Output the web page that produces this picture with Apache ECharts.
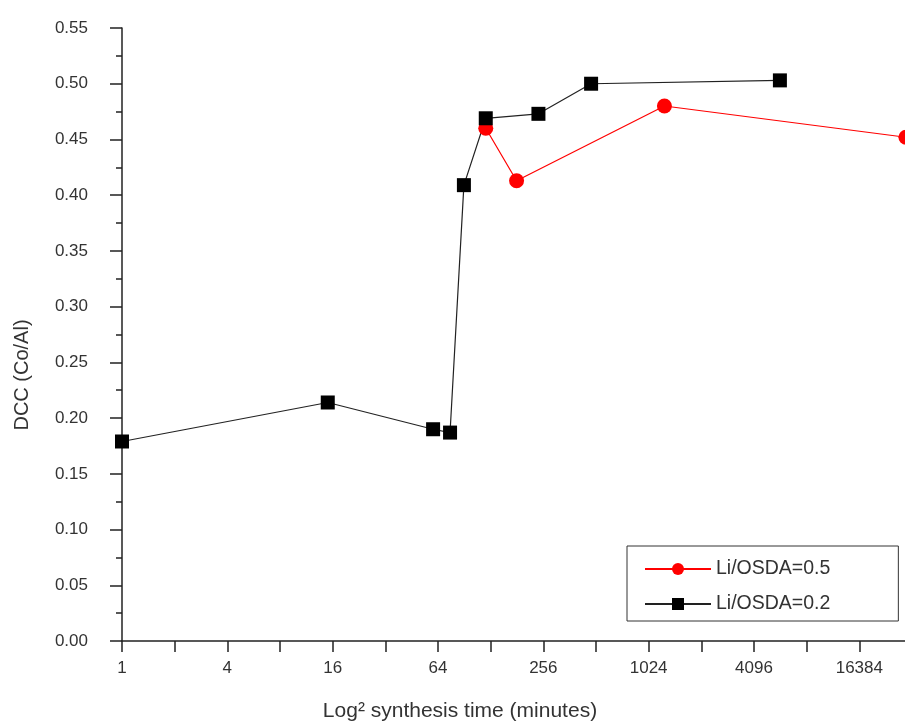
<!DOCTYPE html>
<html>
<head>
<meta charset="utf-8">
<script src="https://cdn.jsdelivr.net/npm/echarts@6/dist/echarts.min.js"></script>
<style>
  html, body { margin: 0; padding: 0; background: #fff; overflow: hidden; width: 905px; height: 724px; }
  #chart { width: 960px; height: 724px; }
</style>
</head>
<body>
<div id="chart"></div>
<script>
// Synthesis time (minutes) and DCC (Co/Al) for each Li/OSDA ratio
const seriesNames = ['Li/OSDA=0.5', 'Li/OSDA=0.2'];
const timeLi05 = [120, 180, 1260, 30240];
const dccLi05 = [0.460, 0.413, 0.480, 0.452];
const timeLi02 = [1, 15, 60, 75, 90, 120, 240, 480, 5760];
const dccLi02 = [0.179, 0.214, 0.190, 0.187, 0.409, 0.469, 0.473, 0.500, 0.503];

// Axis ranges, tick positions and labels
const xMin = 1, xMax = 32768;
const xTickValues = [1, 2, 4, 8, 16, 32, 64, 128, 256, 512, 1024, 2048, 4096, 8192, 16384, 32768];
const xLabelValues = [1, 4, 16, 64, 256, 1024, 4096, 16384];
const yMin = 0, yMax = 0.55, yStep = 0.05;
const xTitle = 'Log\u00b2 synthesis time (minutes)';
const yTitle = 'DCC (Co/Al)';

const pairs = (xs, ys) => xs.map((x, i) => [x, ys[i]]);
const textColor = '#333';
const axisColor = '#222';
const font = 'Arial, "Liberation Sans", sans-serif';

const chart = echarts.init(document.getElementById('chart'), null, { renderer: 'canvas' });
chart.setOption({
  backgroundColor: '#fff',
  animation: false,
  grid: { left: 122, top: 28, right: 48, bottom: 83, containLabel: false, outerBoundsMode: 'none' },
  legend: {
    orient: 'vertical',
    left: 627,
    top: 546,
    padding: [13, 68, 7, 17],
    itemWidth: 66,
    itemHeight: 15,
    itemGap: 15,
    borderColor: '#333',
    borderWidth: 1,
    backgroundColor: '#fff',
    data: seriesNames,
    textStyle: { fontSize: 19.5, color: textColor, fontFamily: font }
  },
  xAxis: {
    type: 'log',
    logBase: 2,
    min: xMin,
    max: xMax,
    name: xTitle,
    nameLocation: 'middle',
    nameGap: 60,
    nameTextStyle: { fontSize: 21, color: textColor, fontFamily: font, padding: [0, 114, 0, 0] },
    axisLine: { onZero: false, lineStyle: { color: axisColor, width: 1.5 } },
    axisTick: {
      show: true, inside: false, length: 11,
      customValues: xTickValues,
      lineStyle: { color: axisColor, width: 1.5 }
    },
    axisLabel: {
      fontSize: 17, color: textColor, fontFamily: font, margin: 19,
      customValues: xLabelValues,
      formatter: v => String(Math.round(v))
    },
    splitLine: { show: false }
  },
  yAxis: {
    type: 'value',
    min: yMin,
    max: yMax,
    interval: yStep,
    name: yTitle,
    nameLocation: 'middle',
    nameGap: 90,
    nameTextStyle: { fontSize: 20, color: textColor, fontFamily: font, padding: [0, 81, 0, 0] },
    axisLine: { show: true, lineStyle: { color: axisColor, width: 1.5 } },
    axisTick: { show: true, inside: false, length: 12, lineStyle: { color: axisColor, width: 1.5 } },
    minorTick: { show: true, splitNumber: 2, length: 6, lineStyle: { color: axisColor, width: 1.5 } },
    axisLabel: {
      fontSize: 17, color: textColor, fontFamily: font, margin: 34,
      formatter: v => v.toFixed(2)
    },
    splitLine: { show: false }
  },
  series: [
    {
      name: seriesNames[0],
      type: 'line',
      data: pairs(timeLi05, dccLi05),
      symbol: 'circle',
      symbolSize: 15,
      lineStyle: { color: '#ff0000', width: 1.2 },
      itemStyle: { color: '#ff0000' },
      clip: false
    },
    {
      name: seriesNames[1],
      type: 'line',
      data: pairs(timeLi02, dccLi02),
      symbol: 'rect',
      symbolSize: 14,
      lineStyle: { color: axisColor, width: 1.2 },
      itemStyle: { color: '#000' },
      clip: false
    }
  ]
});
</script>
</body>
</html>
